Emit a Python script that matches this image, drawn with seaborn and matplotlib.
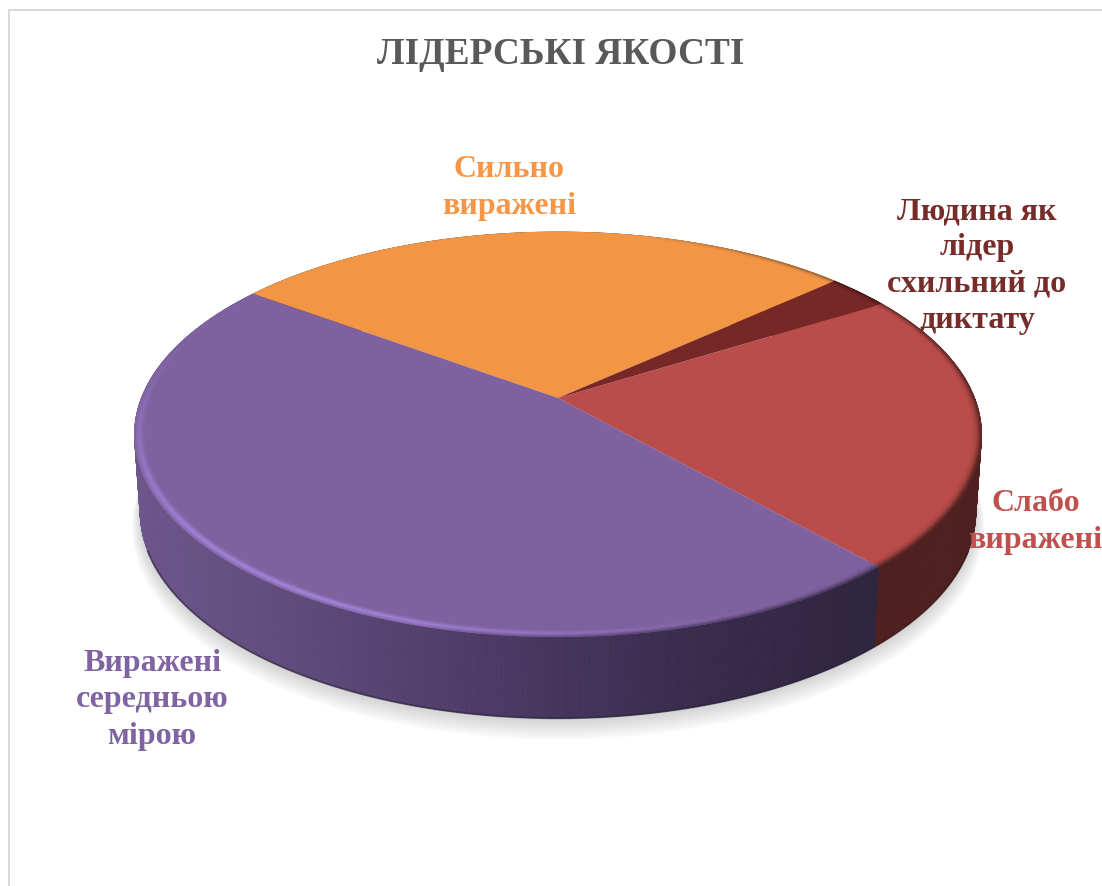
import numpy as np
import matplotlib
matplotlib.use("Agg")
import matplotlib.pyplot as plt
from matplotlib.transforms import Transform
from matplotlib.collections import PolyCollection
from matplotlib.colors import to_rgb
import seaborn as sns

title = "ЛІДЕРСЬКІ ЯКОСТІ"
categories = ["Сильно\nвиражені", "Людина як\nлідер\nсхильний до\nдиктату", "Слабо\nвиражені", "Виражені\nсередньою\nмірою"]
values = [28.35, 2.85, 22.2, 46.6]
face_colors = ["#F29646", "#772826", "#BA4D4B", "#7F619F"]
label_colors = ["#F79646", "#772C2A", "#C0504D", "#8064A2"]
label_xy = [(509, 188), (977, 266), (1035.5, 522), (152, 700)]
W, H = 1102, 887

sns.set_theme(style="white")
plt.rcParams["font.family"] = ["Liberation Serif", "DejaVu Serif"]

CX, CY, A, B, K = 558.0, 399.0, 416.6, 195.9, 0.18
BOT = dict(cx=558.0, cy=399.0 + 77, a=411.0, b=199.5, k=0.18)
TOP = dict(cx=CX, cy=CY, a=A, b=B, k=K)


def project(X, Y, p):
    w = 1 + p["k"] * Y
    return p["cx"] + p["a"] * X / w, p["cy"] - p["b"] * Y / w


class Persp(Transform):
    input_dims = output_dims = 2
    is_separable = False
    has_inverse = False

    def transform_non_affine(self, v):
        v = np.asarray(v, float)
        x, y = project(v[:, 0], v[:, 1], TOP)
        return np.column_stack([x, y])


fig = plt.figure(figsize=(W / 100, H / 100), dpi=100, facecolor="white")
ax = fig.add_axes([0, 0, 1, 1])

START = 144.0
vals = np.array(values, float)
edges = START - 360 * np.concatenate([[0], np.cumsum(vals)]) / vals.sum()


def pt(deg, r=1.0, p=TOP):
    t = np.radians(deg)
    return project(r * np.cos(t), r * np.sin(t), p)


# soft shadow below the disc
tt = np.linspace(0, 360, 361)
for i in range(14):
    g = i / 13
    p = dict(BOT)
    p["cy"] = BOT["cy"] + 2 + 12 * g
    p["a"] = BOT["a"] + 8 * g
    p["b"] = BOT["b"] + 6 * g
    x, y = pt(tt, 1.0, p)
    ax.fill(x, y, color="#9a9a9a", alpha=0.03, lw=0, zorder=1)

# side wall: vertical strips shaded by screen position
xs_stop = [135, 300, 450, 558, 700, 880]
col_stop = np.array([to_rgb(c) for c in ["#6C568A", "#5F4B7B", "#503D69", "#45355D", "#382B4C", "#2E253E"]])
for i, fc in enumerate(face_colors):
    th = np.arange(edges[i], edges[i + 1] - 1e-6, -0.5)
    th = np.append(th, edges[i + 1])
    xt, yt = pt(th)
    xb, yb = pt(th, 1.0, BOT)
    polys, cols = [], []
    for j in range(len(th) - 1):
        polys.append([(xt[j], yt[j]), (xt[j + 1], yt[j + 1]), (xb[j + 1], yb[j + 1]), (xb[j], yb[j])])
        xm = (xt[j] + xt[j + 1]) / 2
        if i == 3:
            c = [np.interp(xm, xs_stop, col_stop[:, q]) for q in range(3)]
        else:
            c = np.array(to_rgb(fc)) * 0.42
        cols.append(c)
    ax.add_collection(PolyCollection(polys, facecolors=cols, edgecolors=cols, linewidths=0.6, zorder=2))
    # darker foot of the wall, only on its front part
    front = np.sin(np.radians(th)) < -0.35
    if front.any():
        base = np.array(to_rgb(fc)) * 0.3
        ax.plot(xb[front], yb[front], color=base, alpha=0.5, lw=1.4, zorder=3, solid_capstyle="butt")

# top face
wedges, _ = ax.pie(values, colors=sns.color_palette(face_colors), startangle=START,
                   counterclock=False, wedgeprops=dict(linewidth=0))
persp = Persp()
for w in wedges:
    w.set_transform(persp + ax.transData)
    w.set_zorder(4)

# bevel along the rim of the top face
R0 = 0.972
NR = 9
for i, fc in enumerate(face_colors):
    face = np.array(to_rgb(fc))
    th = np.arange(edges[i], edges[i + 1] - 1e-6, -1.0)
    th = np.append(th, edges[i + 1])
    polys, cols = [], []
    for k in range(NR):
        r1 = R0 + (1 - R0) * k / NR
        r2 = R0 + (1 - R0) * (k + 1) / NR
        s = (k + 0.5) / NR
        x1, y1 = pt(th, r1)
        x2, y2 = pt(th, r2)
        for j in range(len(th) - 1):
            tm = np.radians((th[j] + th[j + 1]) / 2)
            hi = max(0.0, np.cos(tm - np.radians(235))) ** 2.2
            dk = max(0.0, np.cos(tm - np.radians(345))) ** 0.7
            bump = np.exp(-((s - 0.62) / 0.3) ** 2)
            c = face + (np.array([0.64, 0.52, 0.86]) - face) * hi * bump * (1 if i == 3 else 0)
            c = c * (1 - 0.6 * dk * s ** 3)
            polys.append([(x1[j], y1[j]), (x1[j + 1], y1[j + 1]), (x2[j + 1], y2[j + 1]), (x2[j], y2[j])])
            cols.append(c)
    ax.add_collection(PolyCollection(polys, facecolors=cols, edgecolors=cols, linewidths=0.3, zorder=5))

# chart frame
ax.plot([W, 8.5, 8.5], [10.5, 10.5, H], color="#D9D9D9", lw=1.4, zorder=0)

ax.set_aspect("auto")
ax.set_xlim(0, W)
ax.set_ylim(H, 0)
ax.axis("off")

ax.text(560.5, 54, title, ha="center", va="center", fontsize=26.8, fontweight="bold", color="#595959", zorder=10)
for lab, (x, y), c in zip(categories, label_xy, label_colors):
    ax.text(x, y, lab, ha="center", va="center", fontsize=23, fontweight="bold", color=c,
            linespacing=1.33, zorder=10, clip_on=True)

fig.savefig("out.png", dpi=100, facecolor="white")
